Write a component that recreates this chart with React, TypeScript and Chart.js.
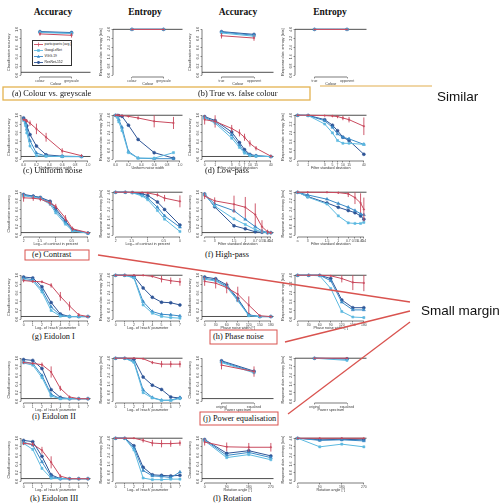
import React, { useEffect, useRef } from "react";
import { Chart, registerables } from "chart.js";

Chart.register(...registerables);

const SANS = "'Liberation Sans', Arial, sans-serif";
const SERIF = "'Liberation Serif', 'Times New Roman', serif";

// ---------- series ----------
const seriesNames = ["participants (avg.)", "GoogLeNet", "VGG-19", "ResNet-152"];
const seriesColors = ["#c94a5e", "#5cb9e0", "#3a8ac7", "#2f5596"];
const seriesMarkers = ["circle", "rect", "triangle", "circle"];
const seriesRadii = [0.8, 1.5, 1.8, 1.5];

// ---------- y axes ----------
const accTicks = [0, 0.2, 0.4, 0.6, 0.8, 1.0];
const accTickLabels = ["0.0", "0.2", "0.4", "0.6", "0.8", "1.0"];
const chanceLevel = 1 / 16;
const entTicks = [0, 0.8, 1.6, 2.4, 3.2, 4.0];
const entTickLabels = ["0.0", "0.8", "1.6", "2.4", "3.2", "4.0"];
const maxEntropy = 4;

// ---------- (a) colour vs greyscale ----------
const colourLabels = ["colour", "greyscale"];
const colourAcc = [[0.9, 0.87], [0.93, 0.91], [0.94, 0.92], [0.95, 0.93]];
const colourAccErr = [0.04, 0.05];
const colourEnt = [[3.99, 3.99], [4.0, 4.0], [4.0, 4.0], [4.0, 4.0]];
const colourEntErr = [0.01, 0.01];

// ---------- (b) true vs false colour ----------
const falseColourLabels = ["true", "opponent"];
const falseColourAcc = [[0.86, 0.81], [0.92, 0.85], [0.94, 0.87], [0.95, 0.89]];
const falseColourAccErr = [0.06, 0.06];
const falseColourEnt = [[3.99, 3.99], [4.0, 3.99], [4.0, 4.0], [4.0, 4.0]];
const falseColourEntErr = [0.01, 0.01];

// ---------- (c) uniform noise ----------
const noiseLevels = [0, 0.03, 0.05, 0.1, 0.2, 0.35, 0.6, 0.9];
const noiseTicks = [0, 0.2, 0.4, 0.6, 0.8, 1.0];
const noiseTickLabels = ["0.0", "0.2", "0.4", "0.6", "0.8", "1.0"];
const noiseAcc = [
  [0.9, 0.89, 0.87, 0.82, 0.69, 0.5, 0.19, 0.08],
  [0.88, 0.77, 0.6, 0.3, 0.08, 0.07, 0.06, 0.06],
  [0.91, 0.82, 0.68, 0.42, 0.14, 0.07, 0.06, 0.06],
  [0.94, 0.88, 0.76, 0.56, 0.3, 0.1, 0.07, 0.06],
];
const noiseAccErr = [0.02, 0.03, 0.04, 0.06, 0.12, 0.1, 0.06, 0.03];
const noiseEnt = [
  [4.0, 4.0, 3.99, 3.97, 3.9, 3.75, 3.45, 3.3],
  [4.0, 3.8, 3.4, 2.6, 0.6, 0.1, 0.1, 0.6],
  [4.0, 3.9, 3.6, 2.9, 0.7, 0.1, 0.05, 0.05],
  [4.0, 4.0, 3.97, 3.9, 3.1, 1.8, 0.6, 0.1],
];
const noiseEntErr = [0, 0.01, 0.02, 0.05, 0.08, 0.15, 0.55, 0.55];

// ---------- (d) low-pass ----------
const lowpassLevels = [0, 1, 3, 5, 7, 10, 15, 40];
const lowpassTickLabels = ["0", "1", "3", "5", "7", "10", "15", "40"];
const lowpassAcc = [
  [0.9, 0.86, 0.7, 0.6, 0.5, 0.36, 0.25, 0.07],
  [0.94, 0.82, 0.48, 0.27, 0.14, 0.08, 0.07, 0.06],
  [0.95, 0.85, 0.55, 0.32, 0.17, 0.1, 0.07, 0.06],
  [0.97, 0.88, 0.62, 0.38, 0.22, 0.11, 0.08, 0.06],
];
const lowpassAccErr = [0.11, 0.14, 0.08, 0.08, 0.08, 0.07, 0.05, 0.03];
const lowpassEnt = [
  [4.0, 4.0, 3.97, 3.93, 3.88, 3.75, 3.6, 3.0],
  [4.0, 3.98, 3.2, 2.4, 1.7, 1.45, 1.45, 1.35],
  [4.0, 3.98, 3.5, 2.9, 2.3, 2.0, 1.85, 1.35],
  [4.0, 3.99, 3.6, 3.1, 2.6, 2.0, 1.7, 0.45],
];
const lowpassEntErr = [0, 0.02, 0.05, 0.1, 0.15, 0.2, 0.25, 0.8];

// ---------- (e) contrast ----------
const contrastLevels = [100, 50, 30, 15, 10, 5, 3, 1];
const contrastTicks = [2, 1.5, 1, 0.5, 0];
const contrastTickLabels = ["2", "1.5", "1", "0.5", "0"];
const contrastAcc = [
  [0.87, 0.86, 0.84, 0.75, 0.67, 0.4, 0.15, 0.06],
  [0.92, 0.88, 0.85, 0.72, 0.52, 0.26, 0.1, 0.05],
  [0.93, 0.9, 0.87, 0.76, 0.57, 0.3, 0.11, 0.05],
  [0.95, 0.91, 0.88, 0.79, 0.62, 0.33, 0.13, 0.05],
];
const contrastAccErr = [0.09, 0.06, 0.05, 0.06, 0.06, 0.07, 0.05, 0.02];
const contrastEnt = [
  [4.0, 4.0, 3.99, 3.97, 3.93, 3.75, 3.45, 3.15],
  [4.0, 4.0, 3.95, 3.65, 3.3, 2.3, 1.5, 0.35],
  [4.0, 4.0, 3.96, 3.75, 3.45, 2.6, 1.8, 0.75],
  [4.0, 4.0, 3.98, 3.85, 3.7, 3.1, 2.4, 0.95],
];
const contrastEntErr = [0, 0, 0.01, 0.05, 0.08, 0.15, 0.3, 0.55];

// ---------- (f) high-pass ----------
const highpassLevels = [Infinity, 3, 1.5, 1, 0.7, 0.55, 0.45, 0.4];
const highpassTickLabels = ["\u221e", "3", "1.5", "1", "0.7", "0.55", "0.45", "0.4"];
const highpassAcc = [
  [0.91, 0.8, 0.72, 0.65, 0.48, 0.2, 0.08, 0.06],
  [0.94, 0.68, 0.38, 0.25, 0.13, 0.08, 0.06, 0.06],
  [0.95, 0.73, 0.57, 0.37, 0.2, 0.1, 0.07, 0.06],
  [0.96, 0.66, 0.22, 0.15, 0.08, 0.07, 0.06, 0.06],
];
const highpassAccErr = [0.07, 0.08, 0.2, 0.24, 0.26, 0.15, 0.05, 0.03];
const highpassEnt = [
  [4.0, 4.0, 3.99, 3.96, 3.85, 3.5, 3.0, 2.4],
  [4.0, 3.55, 2.9, 1.8, 1.15, 1.1, 1.1, 1.2],
  [4.0, 3.75, 3.35, 2.95, 2.6, 2.3, 2.0, 1.9],
  [4.0, 3.6, 3.0, 2.6, 2.3, 2.1, 1.8, 1.5],
];
const highpassEntErr = [0, 0.02, 0.05, 0.1, 0.3, 0.6, 0.9, 1.1];

// ---------- eidolon reach ----------
const reachLevels = [0, 1, 2, 3, 4, 5, 6, 7];
const reachTickLabels = ["0", "1", "2", "3", "4", "5", "6", "7"];

// (g) Eidolon I
const eidolon1Acc = [
  [0.88, 0.86, 0.85, 0.77, 0.52, 0.3, 0.1, 0.06],
  [0.9, 0.87, 0.62, 0.2, 0.07, 0.06, 0.06, 0.06],
  [0.93, 0.9, 0.67, 0.28, 0.09, 0.06, 0.06, 0.06],
  [0.96, 0.94, 0.74, 0.38, 0.12, 0.06, 0.06, 0.06],
];
const eidolon1AccErr = [0.04, 0.03, 0.03, 0.05, 0.1, 0.1, 0.04, 0.02];
const eidolon1Ent = [
  [4.0, 4.0, 4.0, 3.99, 3.9, 3.65, 3.5, 3.4],
  [4.0, 4.0, 3.75, 1.3, 0.55, 0.25, 0.15, 0.1],
  [4.0, 4.0, 3.8, 1.6, 0.7, 0.45, 0.4, 0.3],
  [4.0, 4.0, 3.9, 2.85, 2.0, 1.55, 1.5, 1.3],
];
const eidolon1EntErr = [0, 0, 0, 0.02, 0.1, 0.3, 0.3, 0.35];

// (i) Eidolon II
const eidolon2Acc = [
  [0.9, 0.88, 0.85, 0.68, 0.3, 0.1, 0.06, 0.06],
  [0.89, 0.84, 0.55, 0.12, 0.06, 0.06, 0.06, 0.06],
  [0.92, 0.88, 0.6, 0.16, 0.06, 0.06, 0.06, 0.06],
  [0.97, 0.95, 0.76, 0.27, 0.09, 0.06, 0.06, 0.06],
];
const eidolon2AccErr = [0.03, 0.03, 0.05, 0.13, 0.06, 0.03, 0.02, 0.02];
const eidolon2Ent = [
  [4.0, 4.0, 4.0, 3.95, 3.6, 3.45, 3.45, 3.45],
  [4.0, 4.0, 3.6, 0.8, 0.3, 0.08, 0.08, 0.25],
  [4.0, 4.0, 3.7, 1.05, 0.35, 0.1, 0.1, 0.35],
  [4.0, 4.0, 3.9, 2.25, 1.5, 1.1, 0.4, 0.3],
];
const eidolon2EntErr = [0, 0, 0, 0.03, 0.15, 0.3, 0.3, 0.3];

// (k) Eidolon III
const eidolon3Acc = [
  [0.88, 0.86, 0.72, 0.44, 0.12, 0.06, 0.06, 0.06],
  [0.88, 0.74, 0.3, 0.07, 0.06, 0.06, 0.06, 0.06],
  [0.91, 0.84, 0.45, 0.11, 0.06, 0.06, 0.06, 0.06],
  [0.95, 0.92, 0.58, 0.15, 0.06, 0.06, 0.06, 0.06],
];
const eidolon3AccErr = [0.04, 0.05, 0.08, 0.14, 0.04, 0.02, 0.02, 0.02];
const eidolon3Ent = [
  [4.0, 4.0, 4.0, 3.8, 3.55, 3.5, 3.5, 3.55],
  [4.0, 4.0, 2.9, 0.3, 0.15, 0.15, 0.2, 0.2],
  [4.0, 4.0, 3.1, 1.0, 0.5, 0.45, 0.35, 0.85],
  [4.0, 4.0, 3.3, 1.3, 0.6, 0.55, 0.5, 0.55],
];
const eidolon3EntErr = [0, 0, 0, 0.2, 0.3, 0.35, 0.3, 0.25];

// ---------- (h) phase noise ----------
const phaseLevels = [0, 30, 60, 90, 120, 150, 180];
const phaseTickLabels = ["0", "30", "60", "90", "120", "150", "180"];
const phaseAcc = [
  [0.86, 0.82, 0.72, 0.57, 0.32, 0.08, 0.06],
  [0.91, 0.87, 0.73, 0.42, 0.08, 0.06, 0.06],
  [0.93, 0.89, 0.75, 0.44, 0.09, 0.06, 0.06],
  [0.96, 0.92, 0.78, 0.47, 0.1, 0.06, 0.06],
];
const phaseAccErr = [0.1, 0.12, 0.13, 0.17, 0.2, 0.03, 0.02];
const phaseEnt = [
  [4.0, 4.0, 4.0, 3.95, 3.7, 3.35, 3.3],
  [4.0, 4.0, 3.95, 2.8, 0.7, 0.2, 0.15],
  [4.0, 4.0, 4.0, 3.5, 1.55, 0.85, 0.85],
  [4.0, 4.0, 4.0, 3.7, 1.75, 1.05, 1.05],
];
const phaseEntErr = [0, 0, 0, 0.05, 0.35, 0.7, 0.75];

// ---------- (j) power equalisation ----------
const powerLabels = ["original", "equalised"];
const powerAcc = [[0.84, 0.69], [0.9, 0.66], [0.92, 0.68], [0.94, 0.7]];
const powerAccErr = [0.1, 0.12];
const powerEnt = [[4.0, 4.0], [4.0, 3.8], [4.0, 3.92], [4.0, 3.95]];
const powerEntErr = [0, 0.02];

// ---------- (l) rotation ----------
const rotationLevels = [0, 90, 180, 270];
const rotationTickLabels = ["0", "90", "180", "270"];
const rotationAcc = [
  [0.91, 0.8, 0.79, 0.79],
  [0.94, 0.55, 0.62, 0.5],
  [0.96, 0.6, 0.67, 0.55],
  [0.97, 0.65, 0.71, 0.59],
];
const rotationAccErr = [0.08, 0.1, 0.1, 0.1];
const rotationEnt = [
  [4.0, 4.0, 4.0, 4.0],
  [4.0, 3.2, 3.45, 3.2],
  [4.0, 3.8, 3.85, 3.75],
  [4.0, 3.85, 3.9, 3.85],
];
const rotationEntErr = [0, 0.02, 0.02, 0.02];

// ---------- axis transforms ----------
const lowpassPos = (v: number) => (v === 0 ? Math.log(0.5) : Math.log(v));
const highpassPos = (v: number) => (v === Infinity ? Math.log(3) + 0.36 : Math.log(v));
const contrastPos = (v: number) => Math.log10(v);

type Cond = {
  caption: string;
  xTitle: string;
  xPos: number[];
  tickPos: number[];
  tickLabels: string[];
  reverse?: boolean;
  binary?: boolean;
  acc: number[][];
  accErr: number[];
  ent: number[][];
  entErr: number[];
};

const conditions: Cond[] = [
  { caption: "(a) Colour vs. greyscale", xTitle: "Colour", xPos: [1, 2], tickPos: [1, 2], tickLabels: colourLabels, binary: true, acc: colourAcc, accErr: colourAccErr, ent: colourEnt, entErr: colourEntErr },
  { caption: "(b) True vs. false colour", xTitle: "Colour", xPos: [1, 2], tickPos: [1, 2], tickLabels: falseColourLabels, binary: true, acc: falseColourAcc, accErr: falseColourAccErr, ent: falseColourEnt, entErr: falseColourEntErr },
  { caption: "(c) Uniform noise", xTitle: "Uniform noise width", xPos: noiseLevels, tickPos: noiseTicks, tickLabels: noiseTickLabels, acc: noiseAcc, accErr: noiseAccErr, ent: noiseEnt, entErr: noiseEntErr },
  { caption: "(d) Low-pass", xTitle: "Filter standard deviation", xPos: lowpassLevels.map(lowpassPos), tickPos: lowpassLevels.map(lowpassPos), tickLabels: lowpassTickLabels, acc: lowpassAcc, accErr: lowpassAccErr, ent: lowpassEnt, entErr: lowpassEntErr },
  { caption: "(e) Contrast", xTitle: "Log\u2081\u2080 of contrast in percent", xPos: contrastLevels.map(contrastPos), tickPos: contrastTicks, tickLabels: contrastTickLabels, reverse: true, acc: contrastAcc, accErr: contrastAccErr, ent: contrastEnt, entErr: contrastEntErr },
  { caption: "(f) High-pass", xTitle: "Filter standard deviation", xPos: highpassLevels.map(highpassPos), tickPos: highpassLevels.map(highpassPos), tickLabels: highpassTickLabels, reverse: true, acc: highpassAcc, accErr: highpassAccErr, ent: highpassEnt, entErr: highpassEntErr },
  { caption: "(g) Eidolon I", xTitle: "Log\u2082 of 'reach' parameter", xPos: reachLevels, tickPos: reachLevels, tickLabels: reachTickLabels, acc: eidolon1Acc, accErr: eidolon1AccErr, ent: eidolon1Ent, entErr: eidolon1EntErr },
  { caption: "(h) Phase noise", xTitle: "Phase noise width [\u00b0]", xPos: phaseLevels, tickPos: phaseLevels, tickLabels: phaseTickLabels, acc: phaseAcc, accErr: phaseAccErr, ent: phaseEnt, entErr: phaseEntErr },
  { caption: "(i) Eidolon II", xTitle: "Log\u2082 of 'reach' parameter", xPos: reachLevels, tickPos: reachLevels, tickLabels: reachTickLabels, acc: eidolon2Acc, accErr: eidolon2AccErr, ent: eidolon2Ent, entErr: eidolon2EntErr },
  { caption: "(j) Power equalisation", xTitle: "Power spectrum", xPos: [1, 2], tickPos: [1, 2], tickLabels: powerLabels, binary: true, acc: powerAcc, accErr: powerAccErr, ent: powerEnt, entErr: powerEntErr },
  { caption: "(k) Eidolon III", xTitle: "Log\u2082 of 'reach' parameter", xPos: reachLevels, tickPos: reachLevels, tickLabels: reachTickLabels, acc: eidolon3Acc, accErr: eidolon3AccErr, ent: eidolon3Ent, entErr: eidolon3EntErr },
  { caption: "(l) Rotation", xTitle: "Rotation angle [\u00b0]", xPos: rotationLevels, tickPos: rotationLevels, tickLabels: rotationTickLabels, acc: rotationAcc, accErr: rotationAccErr, ent: rotationEnt, entErr: rotationEntErr },
];

// ---------- layout ----------
const colLeft = [21, 113, 202, 295];
const colWidth = [71, 71, 73, 73];
const rowTop = [28, 114, 191, 274, 357, 437];
const rowSpan = [47, 45, 44, 45, 44, 44];
const captionPos = [
  [12, 94], [198, 94], [23, 171], [205, 171], [32, 255], [205, 255],
  [32, 337], [213, 337], [32, 417], [203, 419], [30, 499], [213, 499],
];
const YW = 14;
const XH = 9;
const PT = 3;
const PR = 3;

const rStyle = {
  id: "rStyle",
  beforeDatasetsDraw(chart: any, _a: any, opts: any) {
    const { ctx, chartArea: a } = chart;
    const xs = chart.scales.x;
    const ys = chart.scales.y;
    ctx.save();
    ctx.strokeStyle = "#222";
    ctx.lineWidth = 0.8;
    const ry = ys.getPixelForValue(opts.refLine);
    ctx.beginPath();
    ctx.moveTo(a.left, ry);
    ctx.lineTo(a.right, ry);
    ctx.stroke();
    ctx.lineWidth = 0.6;
    const yt = ys.ticks;
    ctx.beginPath();
    ctx.moveTo(a.left, ys.getPixelForValue(yt[0].value));
    ctx.lineTo(a.left, ys.getPixelForValue(yt[yt.length - 1].value));
    ctx.stroke();
    const xt = xs.ticks;
    ctx.beginPath();
    ctx.moveTo(xs.getPixelForValue(xt[0].value), a.bottom);
    ctx.lineTo(xs.getPixelForValue(xt[xt.length - 1].value), a.bottom);
    ctx.stroke();
    ctx.restore();
  },
  afterDatasetsDraw(chart: any, _a: any, opts: any) {
    const { ctx } = chart;
    const xs = chart.scales.x;
    const ys = chart.scales.y;
    chart.data.datasets.forEach((ds: any) => {
      if (!ds.errors) return;
      ctx.save();
      ctx.strokeStyle = ds.borderColor;
      ctx.lineWidth = 0.9;
      ds.data.forEach((p: any, j: number) => {
        const e = ds.errors[j];
        if (!e) return;
        const px = xs.getPixelForValue(p.x);
        const lo = Math.max(p.y - e, 0);
        const hi = Math.min(p.y + e, opts.cap);
        ctx.beginPath();
        ctx.moveTo(px, ys.getPixelForValue(lo));
        ctx.lineTo(px, ys.getPixelForValue(hi));
        ctx.stroke();
      });
      ctx.restore();
    });
  },
};

function ChartPanel({ cond, kind, row, col }: { cond: Cond; kind: "acc" | "ent"; row: number; col: number }) {
  const ref = useRef<HTMLCanvasElement>(null);
  const S = rowSpan[row];
  const chartTop = Math.round(rowTop[row] - 0.04 * S);
  const chartH = Math.round(1.08 * S);
  const cw = colWidth[col];
  const W = YW + cw + PR;
  const H = PT + chartH + XH;
  const left = colLeft[col] - YW;
  const top = chartTop - PT;

  useEffect(() => {
    const isAcc = kind === "acc";
    const series = isAcc ? cond.acc : cond.ent;
    const errs = isAcc ? cond.accErr : cond.entErr;
    const yTicks = isAcc ? accTicks : entTicks;
    const yLabels = isAcc ? accTickLabels : entTickLabels;
    const yMaxTick = yTicks[yTicks.length - 1];
    const yPad = 0.04 * yMaxTick;
    let xMin: number, xMax: number;
    if (cond.binary) {
      xMin = 0.4;
      xMax = 2.6;
    } else {
      const all = cond.xPos.concat(cond.tickPos);
      const lo = Math.min(...all);
      const hi = Math.max(...all);
      const pad = 0.04 * (hi - lo);
      xMin = lo - pad;
      xMax = hi + pad;
    }
    const datasets = series.map((vals, i) => ({
      label: seriesNames[i],
      data: vals.map((v, j) => ({ x: cond.xPos[j], y: v })),
      borderColor: seriesColors[i],
      backgroundColor: seriesColors[i],
      borderWidth: 1,
      pointStyle: seriesMarkers[i],
      pointRadius: seriesRadii[i],
      pointBorderWidth: 0.5,
      tension: 0,
      errors: i === 0 ? errs : undefined,
    }));
    const tickFont = { size: 3.4, family: SANS };
    const titleFont = { size: 3.7, family: SANS };
    const chart = new Chart(ref.current as HTMLCanvasElement, {
      type: "line",
      data: { datasets } as any,
      plugins: [rStyle as any],
      options: {
        animation: false,
        responsive: false,
        events: [],
        layout: { padding: { top: PT, right: PR, left: 0, bottom: 0 } },
        plugins: {
          legend: { display: false },
          tooltip: { enabled: false },
          rStyle: { refLine: isAcc ? chanceLevel : maxEntropy, cap: yMaxTick },
        } as any,
        scales: {
          x: {
            type: "linear",
            min: xMin,
            max: xMax,
            reverse: !!cond.reverse,
            afterBuildTicks: (s: any) => {
              s.ticks = cond.tickPos.map((v) => ({ value: v }));
            },
            afterFit: (s: any) => {
              s.height = XH;
            },
            border: { display: false },
            grid: { drawOnChartArea: false, drawTicks: true, tickLength: 1.5, color: "#333", lineWidth: 0.5 },
            ticks: {
              autoSkip: false,
              maxRotation: 0,
              minRotation: 0,
              padding: 0.3,
              font: tickFont,
              color: "#444",
              callback: (_v: any, i: number) => cond.tickLabels[i],
            },
            title: { display: true, text: cond.xTitle, font: titleFont, color: "#333", padding: 0 },
          },
          y: {
            type: "linear",
            min: -yPad,
            max: yMaxTick + yPad,
            afterBuildTicks: (s: any) => {
              s.ticks = yTicks.map((v) => ({ value: v }));
            },
            afterFit: (s: any) => {
              s.width = YW;
            },
            border: { display: false },
            grid: { drawOnChartArea: false, drawTicks: true, tickLength: 1.5, color: "#333", lineWidth: 0.5 },
            ticks: {
              autoSkip: false,
              minRotation: 90,
              maxRotation: 90,
              crossAlign: "center",
              padding: 0.3,
              font: tickFont,
              color: "#444",
              callback: (_v: any, i: number) => yLabels[i],
            },
            title: {
              display: true,
              text: isAcc ? "Classification accuracy" : "Response distr. entropy [bits]",
              font: titleFont,
              color: "#333",
              padding: 0,
            },
          },
        },
      } as any,
    });
    return () => chart.destroy();
  }, []);

  return (
    <canvas
      ref={ref}
      width={W}
      height={H}
      style={{ position: "absolute", left, top, width: W, height: H }}
    />
  );
}

function LegendBox() {
  const rowH = 6.1;
  return (
    <div
      style={{
        position: "absolute",
        left: 32,
        top: 40,
        width: 40,
        height: 26,
        border: "0.6px solid #333",
        background: "white",
        boxSizing: "border-box",
      }}
    >
      {seriesNames.map((n, i) => (
        <div
          key={n}
          style={{
            position: "absolute",
            left: 1,
            top: 1 + i * rowH,
            height: 5,
            display: "flex",
            alignItems: "center",
            whiteSpace: "nowrap",
            fontFamily: SANS,
            fontSize: 3.4,
            color: "#222",
            lineHeight: "5px",
          }}
        >
          <svg width="9" height="5" style={{ display: "block" }}>
            <line x1="0" y1="2.5" x2="9" y2="2.5" stroke={seriesColors[i]} strokeWidth="0.9" />
            {i === 0 && <line x1="4.5" y1="0.5" x2="4.5" y2="4.5" stroke={seriesColors[i]} strokeWidth="0.7" />}
            {i === 1 && <rect x="3.2" y="1.2" width="2.6" height="2.6" fill={seriesColors[i]} />}
            {i === 2 && <polygon points="4.5,0.8 6.1,3.8 2.9,3.8" fill={seriesColors[i]} />}
            {i === 3 && <circle cx="4.5" cy="2.5" r="1.4" fill={seriesColors[i]} />}
          </svg>
          <span style={{ marginLeft: 1.5 }}>{n}</span>
        </div>
      ))}
    </div>
  );
}

const headers = [
  { text: "Accuracy", cx: 53 },
  { text: "Entropy", cx: 145 },
  { text: "Accuracy", cx: 238 },
  { text: "Entropy", cx: 330 },
];

export default function App() {
  const panels: React.ReactNode[] = [];
  conditions.forEach((cond, ci) => {
    const row = Math.floor(ci / 2);
    const side = ci % 2;
    panels.push(<ChartPanel key={`a${ci}`} cond={cond} kind="acc" row={row} col={side * 2} />);
    panels.push(<ChartPanel key={`e${ci}`} cond={cond} kind="ent" row={row} col={side * 2 + 1} />);
  });

  const red = "#d9534f";
  const orange = "#e4b350";

  return (
    <div
      style={{
        position: "fixed",
        left: 0,
        top: 0,
        width: 501,
        height: 504,
        background: "white",
        overflow: "hidden",
      }}
    >
      {headers.map((h, i) => (
        <div
          key={i}
          style={{
            position: "absolute",
            left: h.cx - 40,
            width: 80,
            top: 6,
            textAlign: "center",
            fontFamily: SERIF,
            fontWeight: "bold",
            fontSize: 9.5,
            lineHeight: "12px",
            color: "#111",
          }}
        >
          {h.text}
        </div>
      ))}
      {panels}
      <LegendBox />
      {conditions.map((c, i) => (
        <div
          key={c.caption}
          style={{
            position: "absolute",
            left: captionPos[i][0],
            top: captionPos[i][1] - 5,
            fontFamily: SERIF,
            fontSize: 8.3,
            lineHeight: "10px",
            whiteSpace: "nowrap",
            color: "#111",
          }}
        >
          {c.caption}
        </div>
      ))}
      <svg
        width={501}
        height={504}
        style={{ position: "absolute", left: 0, top: 0, pointerEvents: "none" }}
      >
        <rect x={3} y={87} width={307} height={13} fill="none" stroke={orange} strokeWidth={1.3} />
        <line x1={320} y1={86} x2={432} y2={86} stroke="#ebc889" strokeWidth={1.5} />
        <rect x={25} y={250} width={64} height={10} fill="none" stroke={red} strokeWidth={1} />
        <rect x={210} y={330} width={67} height={14} fill="none" stroke={red} strokeWidth={1} />
        <rect x={200} y={412} width={78} height={13} fill="none" stroke={red} strokeWidth={1} />
        <line x1={98} y1={255} x2={410} y2={302} stroke={red} strokeWidth={1.3} />
        <line x1={285} y1={342} x2={410} y2={311} stroke={red} strokeWidth={1.3} />
        <line x1={288} y1={414} x2={410} y2={322} stroke={red} strokeWidth={1.3} />
      </svg>
      <div
        style={{
          position: "absolute",
          left: 437,
          top: 89,
          fontFamily: SANS,
          fontSize: 13.5,
          lineHeight: "16px",
          color: "#111",
          whiteSpace: "nowrap",
        }}
      >
        Similar
      </div>
      <div
        style={{
          position: "absolute",
          left: 421,
          top: 303,
          fontFamily: SANS,
          fontSize: 13.5,
          lineHeight: "16px",
          color: "#111",
          whiteSpace: "nowrap",
        }}
      >
        Small margin
      </div>
    </div>
  );
}
